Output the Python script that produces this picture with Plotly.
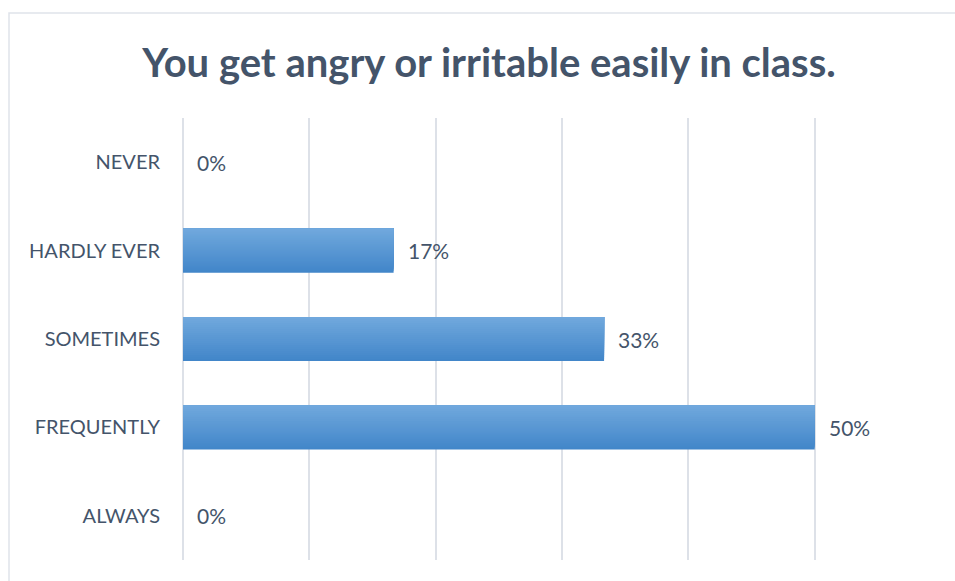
import plotly.graph_objects as go

# Survey responses: "You get angry or irritable easily in class."
categories = ["NEVER", "HARDLY EVER", "SOMETIMES", "FREQUENTLY", "ALWAYS"]
shares = [0.0, 0.1667, 0.3333, 0.5, 0.0]
labels = ["0%", "17%", "33%", "50%", "0%"]
axis_ticks = [0, 0.1, 0.2, 0.3, 0.4, 0.5, 0.6]

TEXT = "#44546a"
GRID = "#dde1e8"
FONT = "Lato, 'Open Sans', sans-serif"


def blend(c0, c1, t):
    a = [int(c0[i:i + 2], 16) for i in (1, 3, 5)]
    b = [int(c1[i:i + 2], 16) for i in (1, 3, 5)]
    return "#" + "".join(f"{round(x + (y - x) * t):02x}" for x, y in zip(a, b))


# Vertical gradient on each bar: dark full-height bar first, then
# progressively shorter, lighter bars anchored at the top edge.
bar_width = 0.5
n = 22
steps = [blend("#4286c9", "#70a8dd", i / (n - 1)) for i in range(n)]

fig = go.Figure()
for i, col in enumerate(steps):
    w = bar_width * (n - i) / n
    fig.add_trace(go.Bar(
        y=categories, x=shares, orientation="h",
        width=w, offset=-bar_width / 2,
        marker=dict(color=col, line=dict(width=0)),
        hoverinfo="skip", showlegend=False,
    ))

for cat, v, lab in zip(categories, shares, labels):
    fig.add_annotation(
        x=v, y=cat, text=lab, showarrow=False,
        xanchor="left", yanchor="middle", xshift=12,
        font=dict(family=FONT, size=21, color=TEXT),
    )

fig.update_layout(
    width=955, height=581,
    margin=dict(l=183, r=14, t=118, b=21),
    paper_bgcolor="white", plot_bgcolor="white",
    barmode="overlay",
    title=dict(
        text="<b>You get angry or irritable easily in class.</b>",
        x=489 / 955, xanchor="center", y=1 - 63 / 581, yanchor="middle",
        xref="container", yref="container",
        font=dict(family=FONT, size=40, color=TEXT),
    ),
    xaxis=dict(
        range=[0, 0.6], tickvals=axis_ticks, showticklabels=False,
        showgrid=True, gridcolor=GRID, gridwidth=1.5,
        zeroline=True, zerolinecolor=GRID, zerolinewidth=1.5,
        showline=False, fixedrange=True,
    ),
    yaxis=dict(
        categoryorder="array", categoryarray=categories,
        autorange="reversed", showgrid=False, zeroline=False,
        ticks="outside", ticklen=18, tickcolor="rgba(0,0,0,0)",
        tickfont=dict(family=FONT, size=20, color=TEXT),
    ),
    shapes=[dict(
        type="rect", xref="paper", yref="paper",
        x0=(9 - 183) / 758, x1=1.1, y0=-0.2, y1=(581 - 13 - 21) / 442,
        line=dict(color="#dfe3ea", width=1.5), fillcolor="rgba(0,0,0,0)",
        layer="below",
    )],
)

fig.write_html("out.html")
